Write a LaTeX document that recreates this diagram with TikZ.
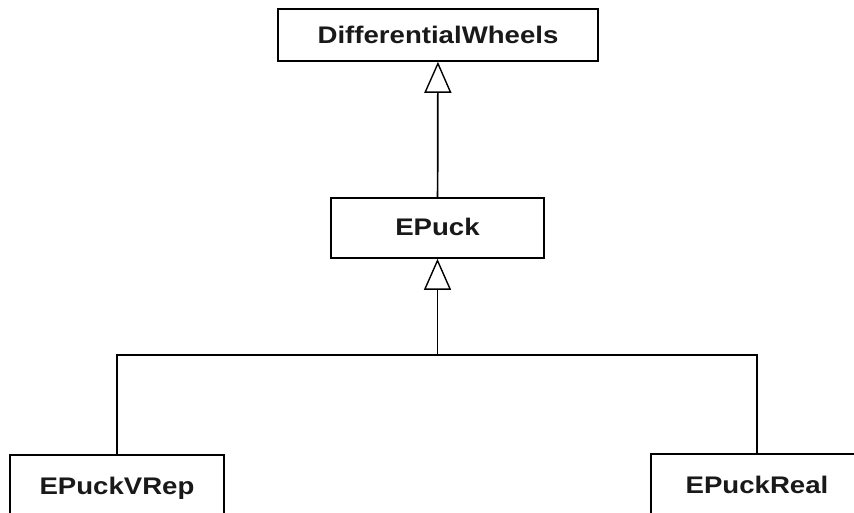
\documentclass[tikz,border=0pt]{standalone}
\usepackage{fontspec}
\setmainfont{Liberation Sans}[FakeStretch=1.15]
\usetikzlibrary{arrows.meta}
\begin{document}
\begin{tikzpicture}[x=1pt,y=-1pt,
  cls/.style={draw=black,line width=1.6pt,fill=white,inner sep=0pt,font=\fontsize{24}{28}\selectfont\bfseries,text=black!90},
  inh/.style={line width=1.7pt,-{Triangle[open,length=31pt,width=27pt,line width=1.4pt]}},
  conn/.style={line width=1.7pt}]
\useasboundingbox (0,0) rectangle (854,513);
\clip (0,0) rectangle (854,513);
\fill[white] (0,0) rectangle (854,513);
\node[cls,minimum width=320pt,minimum height=52pt] (dw) at (438,35) {DifferentialWheels};
\node[cls,minimum width=213pt,minimum height=60pt] (epuck) at (437.5,228) {\raisebox{2pt}{EPuck}};
\node[cls,minimum width=214pt,minimum height=66pt] (vrep) at (117,488) {\raisebox{5pt}{EPuckVRep}};
\node[cls,minimum width=212pt,minimum height=66pt] (real) at (757,487) {\raisebox{5pt}{EPuckReal}};
\coordinate (j) at (437.5,355);
\draw[inh] (epuck) -- (dw);
\draw[inh] (j) -- (epuck);
\draw[conn] (vrep.north) |- (j) -| (real.north);
\end{tikzpicture}
\end{document}
